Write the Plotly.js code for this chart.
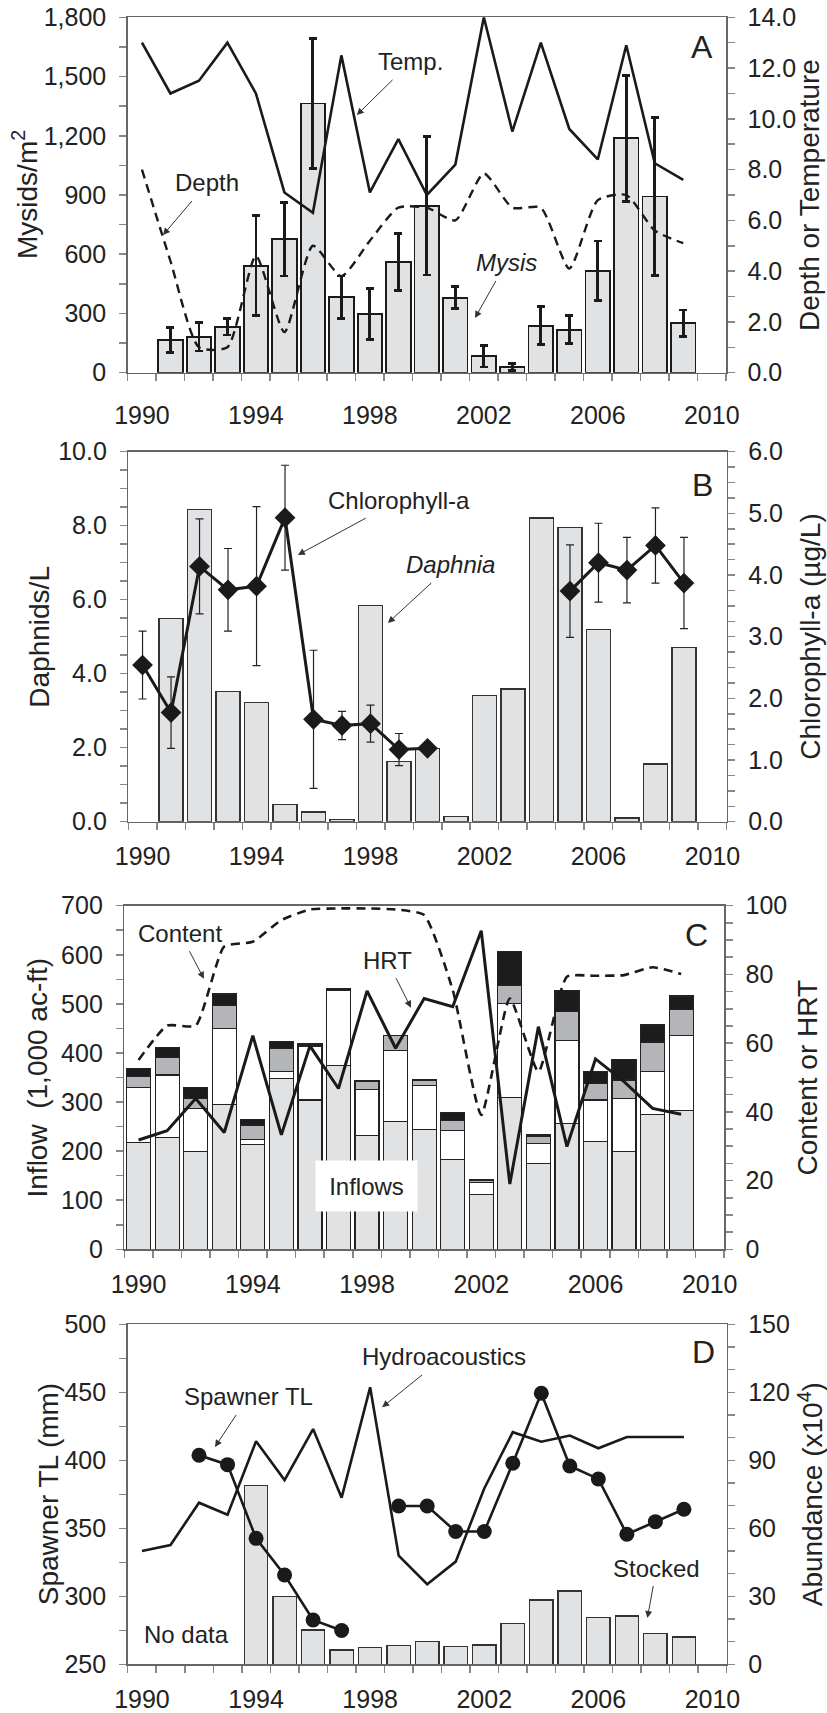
<!DOCTYPE html>
<html>
<head>
<meta charset="utf-8">
<script src="https://cdn.plot.ly/plotly-3.0.1.min.js"></script>
<style>html,body{margin:0;padding:0;background:#fff;}#chart{width:827px;height:1713px;}</style>
</head>
<body>
<div id="chart"></div>
<script>
// ---------- DATA ----------
const years = [1990,1991,1992,1993,1994,1995,1996,1997,1998,1999,2000,2001,2002,2003,2004,2005,2006,2007,2008,2009];
const yearTicks = [1990,1994,1998,2002,2006,2010];

// Panel A
const mysis    = [null,165,182,233,542,676,1363,383,297,561,845,380,84,30,238,218,517,1187,892,250];
const mysisErr = [null,62,72,42,253,186,330,107,130,144,350,55,55,17,96,71,150,318,400,68];
const temp     = [13.0,11.0,11.5,13.0,11.0,7.1,6.3,12.5,7.1,9.2,7.0,8.2,14.0,9.5,13.0,9.6,8.4,12.9,8.25,7.6];
const depth    = [8.0,4.4,1.0,1.0,4.6,1.6,5.0,3.8,5.2,6.5,6.5,6.0,7.85,6.5,6.5,4.1,6.8,7.0,5.6,5.1];

// Panel B
const daphnia  = [null,5.50,8.44,3.51,3.23,0.47,0.26,0.06,5.85,1.63,1.97,0.14,3.41,3.59,8.21,7.95,5.19,0.10,1.56,4.70];
const chl      = [2.54,1.77,4.14,3.76,3.82,4.93,1.66,1.56,1.59,1.17,1.19,null,null,null,null,3.74,4.20,4.08,4.48,3.87];
const chlErr   = [0.55,0.58,0.77,0.67,1.29,0.85,1.12,0.23,0.30,0.26,0.05,null,null,null,null,0.75,0.64,0.53,0.61,0.74];

// Panel C (inflow components, 1,000 ac-ft)
const inflow1  = [217,228,200,295,213,348,304,375,232,260,244,183,111,310,175,257,219,199,274,282];
const inflow2  = [113,127,87,155,11,15,110,152,93,145,89,59,25,190,41,169,85,109,88,153];
const inflow3  = [22,35,21,46,29,46,4,3,17,30,12,20,4,38,13,58,33,37,60,53];
const inflow4  = [17,21,22,24,12,15,2,1,1,1,0,16,3,68,4,44,26,42,35,28];
const content  = [55.1,65.1,65.1,88.1,89.5,95.8,98.9,99.2,99.2,98.9,97.3,75.5,39.1,73.0,51.7,79.3,79.6,79.8,82.1,80.1];
const hrt      = [31.8,34.5,43.9,34.0,62.2,33.3,59.2,46.8,75.2,58.5,73.0,70.6,92.7,19.0,64.8,29.9,55.4,48.8,41.0,39.3];

// Panel D
const stocked   = [null,null,null,null,79.0,29.9,15.1,6.3,7.4,8.2,10.1,7.8,8.5,17.9,28.4,32.4,20.7,21.3,13.7,12.1];
const hydro     = [50.0,52.6,71.3,66.0,98.4,81.3,103.8,73.5,122.2,47.9,35.3,45.3,77.6,102.4,98.2,100.9,95.3,100.3,100.3,100.3];
const spawnerTL = [null,null,403.7,396.8,342.6,315.7,282.6,274.8,null,366.4,366.4,347.6,347.6,397.8,449.3,395.8,386.3,345.6,354.9,364.0];

// ---------- STYLE / LAYOUT ----------
const W = 827, H = 1713;
const FONT = 'Arial, "Liberation Sans", sans-serif';
const INK = '#1a1a1a';
const BARFILL = '#e1e2e4';
const MIDGRAY = '#b4b5b8';
const AXC = '#666';
const TICKC = '#888';

function xdom(l, r){ return [l/W, r/W]; }
function ydom(t, b){ return [1 - b/H, 1 - t/H]; }

const boundaries = [];
for (let i = 0; i <= 21; i++) boundaries.push(1989.5 + i);

function xaxis(dom, anchor, standoff){
  return {
    domain: dom, anchor: anchor, range: [1989.5, 2010.5],
    tickmode: 'array', tickvals: yearTicks, ticktext: yearTicks.map(String),
    ticks: '', showline: true, linecolor: AXC, linewidth: 1.5, mirror: true,
    showgrid: false, zeroline: false,
    tickfont: {family: FONT, size: 25, color: '#222'},
    ticklabelstandoff: standoff,
    minor: {tickmode: 'array', tickvals: boundaries, ticks: 'outside', ticklen: 7, tickcolor: TICKC, tickwidth: 1.5, showgrid: false}
  };
}
function yaxis(dom, anchor, side, range, dtick, minorDt, fmt, overlay){
  const a = {
    domain: dom, anchor: anchor, side: side, range: range,
    tickmode: 'linear', tick0: range[0], dtick: dtick, tickformat: fmt,
    ticks: 'outside', ticklen: 7, tickcolor: TICKC, tickwidth: 1.5,
    showline: true, linecolor: AXC, linewidth: 1.5,
    showgrid: false, zeroline: false,
    tickfont: {family: FONT, size: 25, color: '#222'},
    ticklabelstandoff: 8,
    minor: {tickmode: 'linear', tick0: range[0], dtick: minorDt, ticks: 'outside', ticklen: 7, tickcolor: TICKC, tickwidth: 1.5, showgrid: false}
  };
  if (overlay) a.overlaying = overlay;
  return a;
}

const pA = [17.3, 372.7], pB = [451.7, 821.7], pC = [905.7, 1249.3], pD = [1324.3, 1664.3];
const dA = ydom(pA[0], pA[1]), dB = ydom(pB[0], pB[1]), dC = ydom(pC[0], pC[1]), dD = ydom(pD[0], pD[1]);

const traces = [
  // A
  {type: 'bar', x: years, y: mysis, xaxis: 'x', yaxis: 'y', width: 0.86,
   marker: {color: BARFILL, line: {color: INK, width: 1.8}},
   error_y: {type: 'data', array: mysisErr, visible: true, thickness: 2.8, width: 4, color: INK}},
  {type: 'scatter', mode: 'lines', x: years, y: temp, xaxis: 'x', yaxis: 'y2',
   line: {color: INK, width: 2.6}},
  {type: 'scatter', mode: 'lines', x: years, y: depth, xaxis: 'x', yaxis: 'y2',
   line: {color: INK, width: 2.4, dash: '9px,6px', shape: 'spline', smoothing: 0.6}},
  // B
  {type: 'bar', x: years, y: daphnia, xaxis: 'x2', yaxis: 'y3', width: 0.84,
   marker: {color: BARFILL, line: {color: '#333', width: 1.3}}},
  {type: 'scatter', mode: 'lines+markers', x: years, y: chl, xaxis: 'x2', yaxis: 'y4',
   line: {color: INK, width: 3}, marker: {symbol: 'diamond', size: 16, color: INK},
   error_y: {type: 'data', array: chlErr, visible: true, thickness: 1.2, width: 4, color: '#222'}},
  // C
  {type: 'bar', x: years, y: inflow1, xaxis: 'x3', yaxis: 'y5', width: 0.84,
   marker: {color: BARFILL, line: {color: '#222', width: 1.2}}},
  {type: 'bar', x: years, y: inflow2, xaxis: 'x3', yaxis: 'y5', width: 0.84,
   marker: {color: '#ffffff', line: {color: '#222', width: 1.2}}},
  {type: 'bar', x: years, y: inflow3, xaxis: 'x3', yaxis: 'y5', width: 0.84,
   marker: {color: MIDGRAY, line: {color: '#222', width: 1.2}}},
  {type: 'bar', x: years, y: inflow4, xaxis: 'x3', yaxis: 'y5', width: 0.84,
   marker: {color: '#1c1c1c', line: {color: '#222', width: 1.2}}},
  {type: 'scatter', mode: 'lines', x: years, y: content, xaxis: 'x3', yaxis: 'y6',
   line: {color: INK, width: 2.6, dash: '9px,6px', shape: 'spline', smoothing: 0.5}},
  {type: 'scatter', mode: 'lines', x: years, y: hrt, xaxis: 'x3', yaxis: 'y6',
   line: {color: INK, width: 3}},
  // D
  {type: 'bar', x: years, y: stocked, xaxis: 'x4', yaxis: 'y7', width: 0.82,
   marker: {color: BARFILL, line: {color: '#333', width: 1.3}}},
  {type: 'scatter', mode: 'lines', x: years, y: hydro, xaxis: 'x4', yaxis: 'y7',
   line: {color: INK, width: 2.6}},
  {type: 'scatter', mode: 'lines+markers', x: years, y: spawnerTL, xaxis: 'x4', yaxis: 'y8',
   line: {color: INK, width: 2.6}, marker: {symbol: 'circle', size: 15, color: INK}}
];

function label(xr, yr, x, y, text, size, extra){
  return Object.assign({xref: xr, yref: yr, x: x, y: y, text: text, showarrow: false,
    font: {family: FONT, size: size || 24, color: '#222'}, xanchor: 'center', yanchor: 'middle'}, extra || {});
}
// text centred at (tx, ty) with a thin arrow pointing to (hx, hy)
function callout(xr, yr, tx, ty, hx, hy, text){
  return {xref: xr, yref: yr, axref: xr, ayref: yr, ax: tx, ay: ty, x: hx, y: hy, text: text,
    font: {family: FONT, size: 24, color: '#222'}, xanchor: 'center', yanchor: 'middle', borderpad: 4,
    showarrow: true, arrowhead: 2, arrowsize: 1.4, arrowwidth: 1, arrowcolor: '#333', standoff: 0};
}
function axTitle(px, panel, text){
  return {xref: 'paper', yref: 'paper', x: px / W, y: 1 - (panel[0] + panel[1]) / 2 / H,
    text: text, textangle: -90, showarrow: false, xanchor: 'center', yanchor: 'middle',
    font: {family: FONT, size: 28, color: '#222'}};
}

const annotations = [
  // axis titles
  axTitle(25, pA, 'Mysids/m<sup>2</sup>'),
  axTitle(810, pA, 'Depth or Temperature'),
  axTitle(40, pB, 'Daphnids/L'),
  axTitle(811, pB, 'Chlorophyll-a (µg/L)'),
  axTitle(37, pC, 'Inflow\u00a0\u00a0(1,000 ac-ft)'),
  axTitle(807, pC, 'Content or HRT'),
  axTitle(48, pD, 'Spawner TL (mm)'),
  axTitle(811, pD, 'Abundance (x10<sup>4</sup>)'),
  // A
  callout('x', 'y', 1999.44, 1574, 1997.54, 1305, 'Temp.'),
  callout('x', 'y', 1992.29, 961, 1990.74, 697, 'Depth'),
  callout('x', 'y', 2002.78, 556, 2001.69, 277, '<i>Mysis</i>'),
  label('x', 'y', 2009.65, 1650, 'A', 32),
  // B
  callout('x2', 'y3', 1999.0, 8.69, 1995.45, 7.21, 'Chlorophyll-a'),
  callout('x2', 'y3', 2000.82, 6.94, 1998.61, 5.37, '<i>Daphnia</i>'),
  label('x2', 'y3', 2009.66, 9.10, 'B', 32),
  // C
  callout('x3', 'y5', 1991.45, 644, 1992.29, 551, 'Content'),
  callout('x3', 'y5', 1998.70, 589, 1999.54, 492, 'HRT'),
  label('x3', 'y5', 2009.55, 640, 'C', 32),
  label('x3', 'y5', 1997.97, 129, 'Inflows', 24, {bgcolor: '#ffffff', width: 97, height: 46, borderpad: 2}),
  // D
  callout('x4', 'y8', 2000.60, 476, 1998.42, 439, 'Hydroacoustics'),
  callout('x4', 'y8', 1993.72, 446.6, 1992.56, 409.8, 'Spawner TL'),
  label('x4', 'y8', 1991.55, 271.6, 'No data'),
  callout('x4', 'y8', 2008.04, 320.8, 2007.72, 284.1, 'Stocked'),
  label('x4', 'y8', 2009.69, 479.6, 'D', 32)
];

const layout = {
  width: W, height: H,
  margin: {l: 0, r: 0, t: 0, b: 0},
  paper_bgcolor: '#ffffff', plot_bgcolor: 'rgba(0,0,0,0)',
  font: {family: FONT, color: '#222'},
  showlegend: false, barmode: 'stack', bargap: 0.14,
  xaxis:  xaxis(xdom(127.7, 726.0), 'y', 20),
  yaxis:  yaxis(dA, 'x', 'left', [0, 1800], 300, 150, ','),
  yaxis2: yaxis(dA, 'x', 'right', [0, 14], 2, 1, '.1f', 'y'),
  xaxis2: xaxis(xdom(128.3, 726.7), 'y3', 12),
  yaxis3: yaxis(dB, 'x2', 'left', [0, 10], 2, 0.5, '.1f'),
  yaxis4: yaxis(dB, 'x2', 'right', [0, 6], 1, 0.25, '.1f', 'y3'),
  xaxis3: xaxis(xdom(124.3, 724.0), 'y5', 12),
  yaxis5: yaxis(dC, 'x3', 'left', [0, 700], 100, 50, 'd'),
  yaxis6: yaxis(dC, 'x3', 'right', [0, 100], 20, 5, 'd', 'y5'),
  xaxis4: xaxis(xdom(127.7, 726.7), 'y7', 12),
  yaxis7: yaxis(dD, 'x4', 'right', [0, 150], 30, 10, 'd'),
  yaxis8: yaxis(dD, 'x4', 'left', [250, 500], 50, 25, 'd', 'y7'),
  annotations: annotations
};

Plotly.newPlot('chart', traces, layout, {staticPlot: true, displayModeBar: false});
</script>
</body>
</html>
